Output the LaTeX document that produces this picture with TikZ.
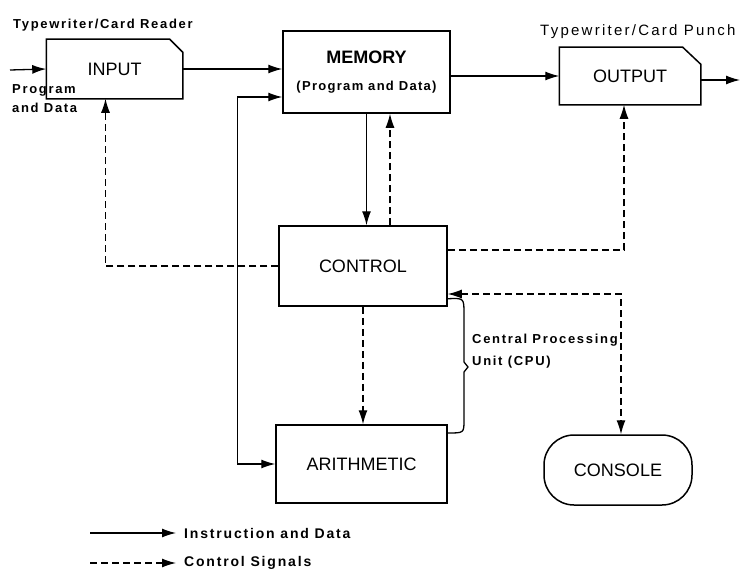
\documentclass[tikz,border=0pt]{standalone}
\usepackage{fontspec}
\setmainfont{Liberation Sans}
\usetikzlibrary{arrows.meta,calc}
\begin{document}
\begin{tikzpicture}[x=1pt,y=-1pt,
  >={Latex[length=14pt,width=9pt]},
  blk/.style={draw, line width=1.5pt, inner sep=0pt, font=\fontsize{18}{21}\selectfont},
  flow/.style={line width=1.3pt, ->},
  ctrl/.style={flow, dash pattern=on 7pt off 4pt},
  lbl/.style={font=\bfseries\fontsize{13}{15}\selectfont\addfontfeature{LetterSpace=13}, inner sep=0pt},
  lblr/.style={font=\fontsize{15}{17}\selectfont\addfontfeature{LetterSpace=15}, inner sep=0pt},
  lgd/.style={font=\bfseries\fontsize{14}{16}\selectfont\addfontfeature{LetterSpace=13}, inner sep=0pt}]
\useasboundingbox (0,0) rectangle (744,578);

% boxes
\node[blk, draw=none, minimum width=135pt, minimum height=58pt] (in) at (114.5,69) {INPUT};
\draw[line width=1.5pt] (in.south west) -- (in.north west) -- ([xshift=-13pt]in.north east)
  -- ([yshift=-13pt]in.north east) -- (in.south east) -- cycle;
\node[blk, minimum width=167pt, minimum height=82pt, align=center] (mem) at (366.5,72)
  {\textbf{MEMORY}\\[6pt]{\fontsize{13}{15}\selectfont\bfseries\addfontfeature{LetterSpace=10}(Program and Data)}};
\node[blk, draw=none, minimum width=140pt, minimum height=56pt] (out) at (630,76) {OUTPUT};
\draw[line width=1.5pt] (out.south west) -- (out.north west) -- ([xshift=-18pt]out.north east)
  -- ([yshift=-17pt]out.north east) -- (out.south east) -- cycle;
\node[blk, minimum width=168pt, minimum height=80pt] (ctl) at (363,266) {CONTROL};
\node[blk, minimum width=171pt, minimum height=78pt] (ari) at (361.5,464) {ARITHMETIC};
\node[blk, minimum width=148pt, minimum height=70pt, rounded corners=30pt] (con) at (618,470) {CONSOLE};

% labels
\node[lbl, anchor=base west] (tcr) at (13,29) {Typewriter/Card Reader};
\node[lblr, anchor=base west] (tcp) at (540,36) {Typewriter/Card Punch};
\node[lbl, anchor=base west, align=left] (pad) at (12,112) {Program\\[4pt]and Data};
\node[lbl, anchor=base west, align=left] (cpu) at (472,365) {Central Processing\\[7pt]Unit (CPU)};

% solid flows
\coordinate (instart) at (10,70);
\draw[flow] (instart) -- (in.west);
\draw[flow] (in.east) -- (mem.west |- in.east);
\draw[flow] (out.west -| mem.east) -- (out.west);
\coordinate (oend) at (740,80);
\draw[flow] (out.east |- oend) -- (oend);
\draw[flow] (mem.south) -- (ctl.north -| mem.south);
\draw[flow, <->] ([yshift=-25pt]mem.west) -- ++(-45,0) |- (ari.west);

% control flows
\draw[ctrl] ([xshift=27pt]ctl.north) -- ([xshift=27pt]ctl.north |- mem.south);
\draw[ctrl] (ctl.west) -| ([xshift=-9pt]in.south);
\draw[ctrl] ([yshift=16pt]ctl.east) -| ([xshift=-6pt]out.south);
\draw[ctrl, <->] ([yshift=-28pt]ctl.east) -| ([xshift=3pt]con.north);
\draw[ctrl] (ctl.south) -- (ctl.south |- ari.north);

% brace
\draw[line width=1.3pt] ([yshift=8pt]ctl.south east) .. controls (464,298) .. (464,314)
  -- (464,362) -- (468,367) -- (464,372) -- (464,420) .. controls (464,433) .. (ari.east |- 0,433);

% legend
\coordinate (l1a) at (90,533); \coordinate (l1b) at (176,533);
\coordinate (l2a) at (90,563); \coordinate (l2b) at (176,563);
\draw[flow] (l1a) -- (l1b);
\draw[ctrl] (l2a) -- (l2b);
\node[lgd, anchor=west] (leg1) at (184,533) {Instruction and Data};
\node[lgd, anchor=west] (leg2) at (184,563) {Control Signals};
\end{tikzpicture}
\end{document}
